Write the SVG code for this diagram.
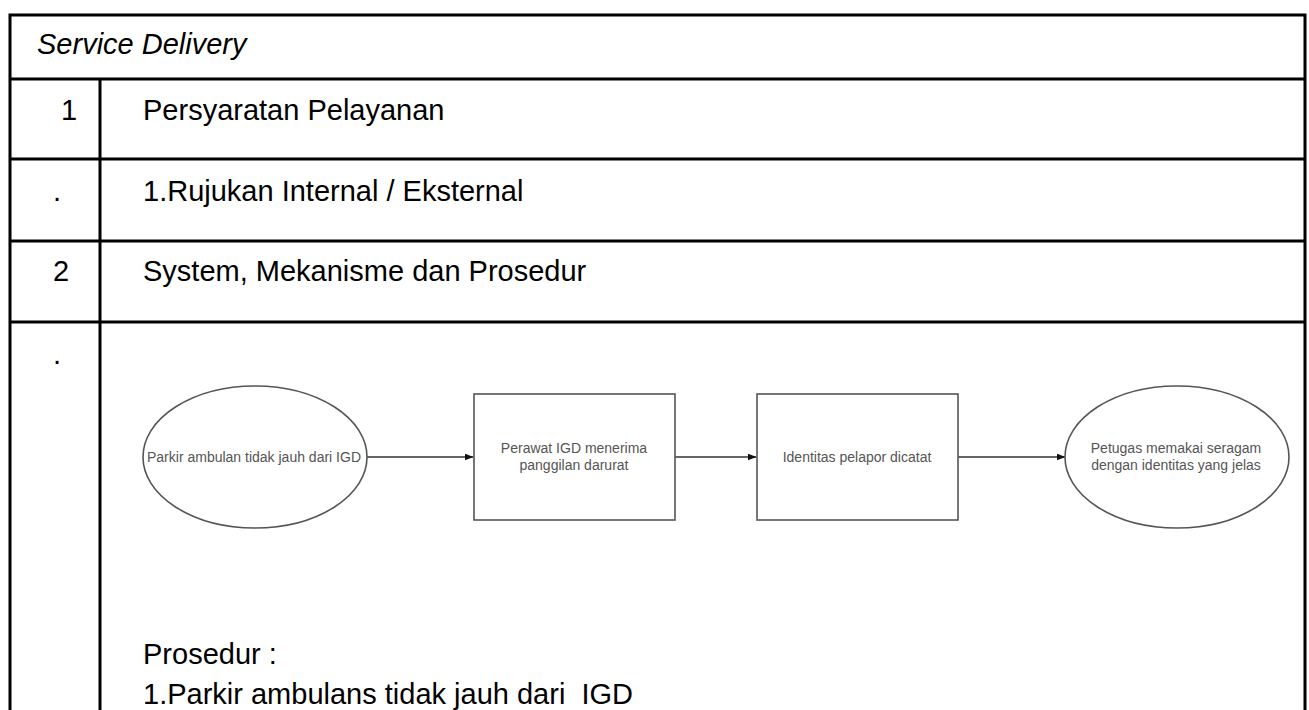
<svg xmlns="http://www.w3.org/2000/svg" width="1309" height="710" viewBox="0 0 1309 710">
<defs>
<style>
.grid{stroke:#000;stroke-width:3;fill:none}
.t{font-family:"Liberation Sans",Arial,sans-serif;font-size:29px;fill:#000;white-space:pre}
.it{font-style:italic}
.shape{fill:#fff;stroke:#555;stroke-width:1.6}
.lbl{font-family:"Liberation Sans",Arial,sans-serif;font-size:14px;fill:#555;text-anchor:middle}
.conn{stroke:#333;stroke-width:1.4;fill:none}
</style>
<marker id="arr" markerWidth="9" markerHeight="7" refX="8.5" refY="3.5" orient="auto" markerUnits="userSpaceOnUse">
<path d="M0,0 L9,3.5 L0,7 Z" fill="#111"/>
</marker>
</defs>
<rect width="1309" height="710" fill="#fff"/>
<g id="table">
<path class="grid" d="M8.5,15 H1306.5 M10,79 H1305 M10,159 H1305 M10,241 H1305 M10,322 H1305 M10,15 V710 M1305,15 V710 M100,79 V710"/>
<text class="t it" x="37" y="54">Service Delivery</text>
<text class="t" x="61" y="120">1</text>
<text class="t" x="143" y="120">Persyaratan Pelayanan</text>
<text class="t" x="53" y="201">.</text>
<text class="t" x="143" y="201">1.Rujukan Internal / Eksternal</text>
<text class="t" x="53" y="281">2</text>
<text class="t" x="143" y="281">System, Mekanisme dan Prosedur</text>
<text class="t" x="53" y="364">.</text>
<text class="t" x="143" y="664">Prosedur :</text>
<text class="t" x="143" y="704">1.Parkir ambulans tidak jauh dari  IGD</text>
</g>
<g id="connectors">
<line class="conn" x1="367" y1="457" x2="473" y2="457" marker-end="url(#arr)"/>
<line class="conn" x1="675" y1="457" x2="756" y2="457" marker-end="url(#arr)"/>
<line class="conn" x1="958" y1="457" x2="1065" y2="457" marker-end="url(#arr)"/>
</g>
<g id="n1">
<ellipse class="shape" cx="255" cy="457" rx="112" ry="71"/>
<text class="lbl" x="254" y="462">Parkir ambulan tidak jauh dari IGD</text>
</g>
<g id="n2">
<rect class="shape" x="474" y="394" width="201" height="126"/>
<text class="lbl" x="574" y="453">Perawat IGD menerima</text>
<text class="lbl" x="574" y="470">panggilan darurat</text>
</g>
<g id="n3">
<rect class="shape" x="757" y="394" width="201" height="126"/>
<text class="lbl" x="857" y="462">Identitas pelapor dicatat</text>
</g>
<g id="n4">
<ellipse class="shape" cx="1177" cy="457" rx="112" ry="71"/>
<text class="lbl" x="1176" y="453">Petugas memakai seragam</text>
<text class="lbl" x="1176" y="470">dengan identitas yang jelas</text>
</g>
</svg>
